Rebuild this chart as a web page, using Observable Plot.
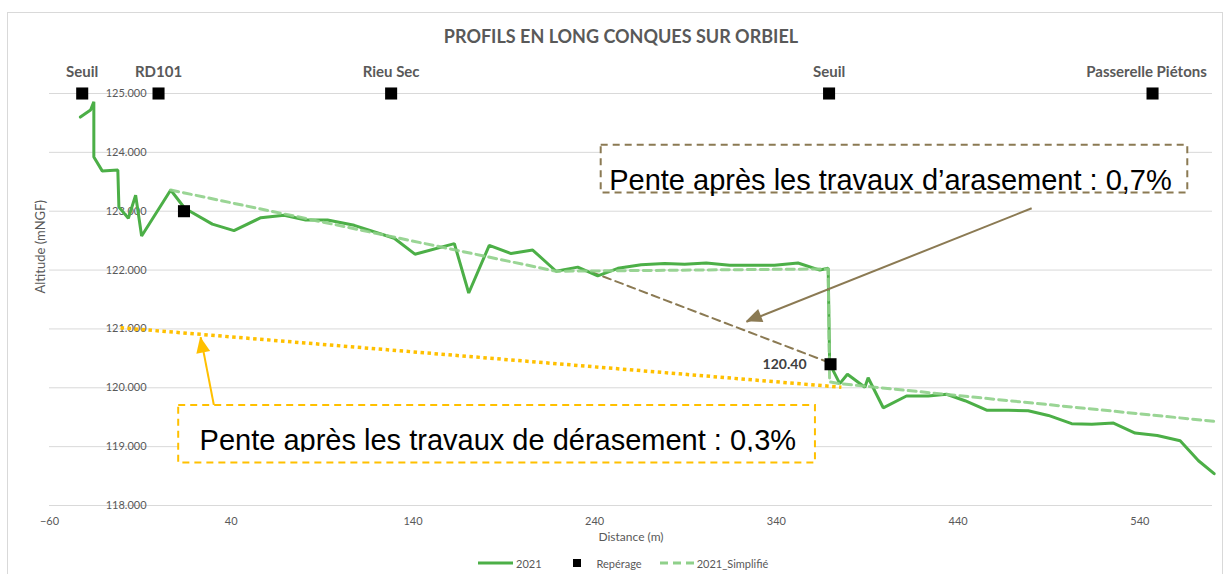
<!DOCTYPE html>
<html><head><meta charset="utf-8">
<script src="https://cdn.jsdelivr.net/npm/d3@7"></script>
<script src="https://cdn.jsdelivr.net/npm/@observablehq/plot@0.6"></script>
<style>
body{margin:0;background:#fff;}
#wrap{position:relative;width:1228px;height:574px;overflow:hidden;font-family:Lato,"Open Sans",sans-serif;}
#border{position:absolute;left:7px;top:12px;width:1216px;height:620px;border:1px solid #d9d9d9;box-sizing:border-box;}
#chart{position:absolute;left:0;top:0;}
#title{position:absolute;top:25px;left:0;width:1242px;text-align:center;font-weight:bold;font-size:18px;color:#595959;}
#legend{position:absolute;top:556px;left:478px;display:flex;align-items:center;font-size:11px;color:#595959;height:14px;}
#legend svg{display:block}
</style></head>
<body>
<div id="wrap">
  <div id="border"></div>
  <div id="chart"></div>
  <div id="title">PROFILS EN LONG CONQUES SUR ORBIEL</div>
  <div id="legend">
    <svg width="35" height="6"><line x1="0" y1="3" x2="35" y2="3" stroke="#4CAF47" stroke-width="3"/></svg>
    <span style="margin-left:3px">2021</span>
    <span style="display:inline-block;width:8px;height:8px;background:#000;margin-left:31px"></span>
    <span style="margin-left:16px">Repérage</span>
    <svg width="35" height="6" style="margin-left:18px"><line x1="0" y1="3" x2="35" y2="3" stroke="#8FD08A" stroke-width="3" stroke-dasharray="8 5"/></svg>
    <span style="margin-left:2px">2021_Simplifié</span>
  </div>
</div>
<script>
// ---- Data ----
const xTicks = [-60, 40, 140, 240, 340, 440, 540];
const yTicks = [118, 119, 120, 121, 122, 123, 124, 125];

const dist2021 = [-43, -37.4, -35.6, -35.6, -31.0, -22.4, -21.8, -16.6, -12.6, -9.3, 6.7, 14.4, 29.6, 41.5, 56.3, 69.1, 81, 93, 107.7, 129.7, 141.1, 162.8, 170.7, 182, 194, 205.9, 218.8, 230.7, 241.7, 252.8, 265.6, 278.5, 289.5, 301.4, 314.3, 326.2, 339, 351.9, 363.9, 368.5, 369.3, 374.9, 379.1, 388.7, 390.5, 398.8, 411.6, 423.6, 433.7, 443.8, 455.7, 467.6, 478.6, 489.7, 502.5, 513.6, 525.5, 537.4, 549.6, 562.2, 572.3, 580.9];
const alt2021  = [124.60, 124.72, 124.86, 123.92, 123.685, 123.70, 123.07, 122.88, 123.27, 122.58, 123.36, 123.05, 122.78, 122.67, 122.89, 122.93, 122.85, 122.85, 122.76, 122.54, 122.27, 122.45, 121.61, 122.42, 122.28, 122.34, 121.98, 122.05, 121.90, 122.03, 122.09, 122.11, 122.10, 122.12, 122.08, 122.08, 122.08, 122.12, 122.00, 122.03, 120.41, 120.07, 120.23, 120.01, 120.17, 119.66, 119.86, 119.86, 119.89, 119.78, 119.62, 119.62, 119.61, 119.53, 119.39, 119.38, 119.40, 119.23, 119.19, 119.10, 118.76, 118.54];

const distSimpl = [6.7, 218.8, 368.5, 369.3, 375, 580.9];
const altSimpl  = [123.36, 121.98, 122.02, 120.10, 120.07, 119.43];

const distRep  = [-42, 0, 128, 369, 547, 14, 369.8];
const altRep   = [125, 125, 125, 125, 125, 123.0, 120.40];
const labelRep = ["Seuil", "RD101", "Rieu Sec", "Seuil", "Passerelle Piétons", "", ""];
const valueRep = ["", "", "", "", "", "", "120.40"];

// slope lines
const orangeDist = [-20.9, 375.8];
const orangeAlt  = [121.02, 120.01];
const brownDist  = [238, 369.8];
const brownAlt   = [121.97, 120.42];

// annotations
const noteText  = ["Pente après les travaux d’arasement : 0,7%", "Pente après les travaux de dérasement : 0,3%"];
const noteColor = ["#8B7A53", "#FFC000"];
const noteX1 = [243.6, 11.1];
const noteX2 = [566.4, 361.5];
const noteY1 = [124.12, 119.70];
const noteY2 = [123.31, 118.72];
const noteTextX = [248, 22.6];
const noteTextY = [123.52, 119.10];
const noteClipY = [122.9, 118.905];
const arrowX1 = [480.5, 30.5];
const arrowY1 = [123.05, 119.70];
const arrowX2 = [323.5, 23.2];
const arrowY2 = [121.12, 120.86];

// ---- Tables ----
const line2021 = dist2021.map((d, i) => ({d, a: alt2021[i]}));
const lineSimpl = distSimpl.map((d, i) => ({d, a: altSimpl[i]}));
const rep = distRep.map((d, i) => ({d, a: altRep[i], label: labelRep[i], value: valueRep[i]}));
const orange = orangeDist.map((d, i) => ({d, a: orangeAlt[i]}));
const brown = brownDist.map((d, i) => ({d, a: brownAlt[i]}));
const notes = noteText.map((t, i) => ({t, c: noteColor[i], x1: noteX1[i], x2: noteX2[i], y1: noteY1[i], y2: noteY2[i], tx: noteTextX[i], ty: noteTextY[i], ax1: arrowX1[i], ay1: arrowY1[i], ax2: arrowX2[i], ay2: arrowY2[i], clip: noteClipY[i]}));

const noteFont = "'Liberation Sans', Arial, sans-serif";
const lastLabel = labelRep.length ? 4 : -1;

const plot = Plot.plot({
  width: 1228, height: 574,
  marginLeft: 49, marginRight: 16, marginTop: 93, marginBottom: 69,
  style: {fontFamily: "Lato, 'Open Sans', sans-serif", fontSize: "11px", color: "#595959", background: "transparent"},
  x: {domain: [-60, 580], ticks: xTicks, tickSize: 0, tickPadding: 12, label: null},
  y: {domain: [118, 125], axis: null},
  marks: [
    Plot.ruleY(yTicks, {stroke: "#d9d9d9", strokeWidth: 1}),
    Plot.text(yTicks, {x: d => 0, y: d => d, text: d => d.toFixed(3), textAnchor: "end", dx: -12, fill: "#595959", fontSize: 11}),
    Plot.text(["Altitude (mNGF)"], {frameAnchor: "left", rotate: -90, dx: -9, dy: -6, fill: "#595959", fontSize: 13}),
    Plot.text(["Distance (m)"], {frameAnchor: "bottom", dy: 35, fill: "#595959", fontSize: 12}),
    Plot.line(orange, {x: "d", y: "a", stroke: "#FFC000", strokeWidth: 3.5, strokeDasharray: "3.5 3.5", strokeLinecap: "butt"}),
    Plot.line(brown, {x: "d", y: "a", stroke: "#8B7A53", strokeWidth: 2, strokeDasharray: "8 5"}),
    Plot.line(line2021, {x: "d", y: "a", stroke: "#4CAF47", strokeWidth: 3, strokeLinejoin: "miter"}),
    Plot.line(lineSimpl, {x: "d", y: "a", stroke: "#8FD08A", strokeWidth: 3, strokeDasharray: "8 5", strokeOpacity: 0.9}),
    Plot.dot(rep, {x: "d", y: "a", symbol: "square", r: 6.8, fill: "#000", stroke: "none"}),
    Plot.text(rep, {filter: (d, i) => i !== lastLabel, x: "d", y: "a", text: "label", dy: -21, fontWeight: "bold", fontSize: 15, fill: "#595959"}),
    Plot.text(rep, {filter: (d, i) => i === lastLabel, x: "d", y: "a", text: "label", dy: -21, dx: -6, fontWeight: "bold", fontSize: 15, fill: "#595959"}),
    Plot.text(rep, {x: "d", y: "a", text: "value", dx: -24, textAnchor: "end", fontWeight: "bold", fontSize: 14, fill: "#404040"}),
    Plot.link(notes, {x1: "ax1", y1: "ay1", x2: "ax2", y2: "ay2", stroke: "c", strokeWidth: 2}),
    Plot.rect(notes, {x1: "x1", x2: "x2", y1: "y1", y2: "y2", fill: "#fff", stroke: "c", strokeWidth: 2, strokeDasharray: "7 5"}),
    Plot.text(notes, {filter: (d, i) => i === 0, x: "tx", y: "ty", text: "t", textAnchor: "start", fontSize: 29, fill: "#000", fontFamily: noteFont, ariaLabel: "note-0"}),
    Plot.text(notes, {filter: (d, i) => i === 1, x: "tx", y: "ty", text: "t", textAnchor: "start", fontSize: 29, fill: "#000", fontFamily: noteFont, ariaLabel: "note-1"})
  ]
});

document.getElementById("chart").appendChild(plot);

// arrowheads and text clipping computed through the plot's scales
const sx = plot.scale("x"), sy = plot.scale("y");
const px = sx.apply ? v => sx.apply(v) : d3.scaleLinear(sx.domain, sx.range);
const py = sy.apply ? v => sy.apply(v) : d3.scaleLinear(sy.domain, sy.range);
const svg = d3.select(plot);
notes.forEach(n => {
  const x1 = px(n.ax1), y1 = py(n.ay1), x2 = px(n.ax2), y2 = py(n.ay2);
  const ang = Math.atan2(y2 - y1, x2 - x1), len = 16, half = 7;
  const bx = x2 - len * Math.cos(ang), by = y2 - len * Math.sin(ang);
  const nx = -Math.sin(ang), ny = Math.cos(ang);
  const pts = [[x2, y2], [bx + nx * half, by + ny * half], [bx - nx * half, by - ny * half]];
  svg.append("polygon").attr("points", pts.map(p => p.join(",")).join(" ")).attr("fill", n.c);
});
const defs = svg.insert("defs", ":first-child");
notes.forEach((n, i) => {
  const id = "clipnote" + i;
  defs.append("clipPath").attr("id", id).attr("clipPathUnits", "userSpaceOnUse")
    .append("rect").attr("x", px(n.x1)).attr("y", py(n.y1))
    .attr("width", px(n.x2) - px(n.x1) + 10).attr("height", py(n.clip) - py(n.y1));
  // find the text of this note, and clip its wrapper group (global coords)
  svg.selectAll("text").filter(function() { return this.textContent === n.t; }).each(function() {
    const wrap = document.createElementNS("http://www.w3.org/2000/svg", "g");
    wrap.setAttribute("clip-path", `url(#${id})`);
    const g = this.parentNode;
    g.parentNode.insertBefore(wrap, g);
    wrap.appendChild(g);
  });
});
</script>
</body></html>
